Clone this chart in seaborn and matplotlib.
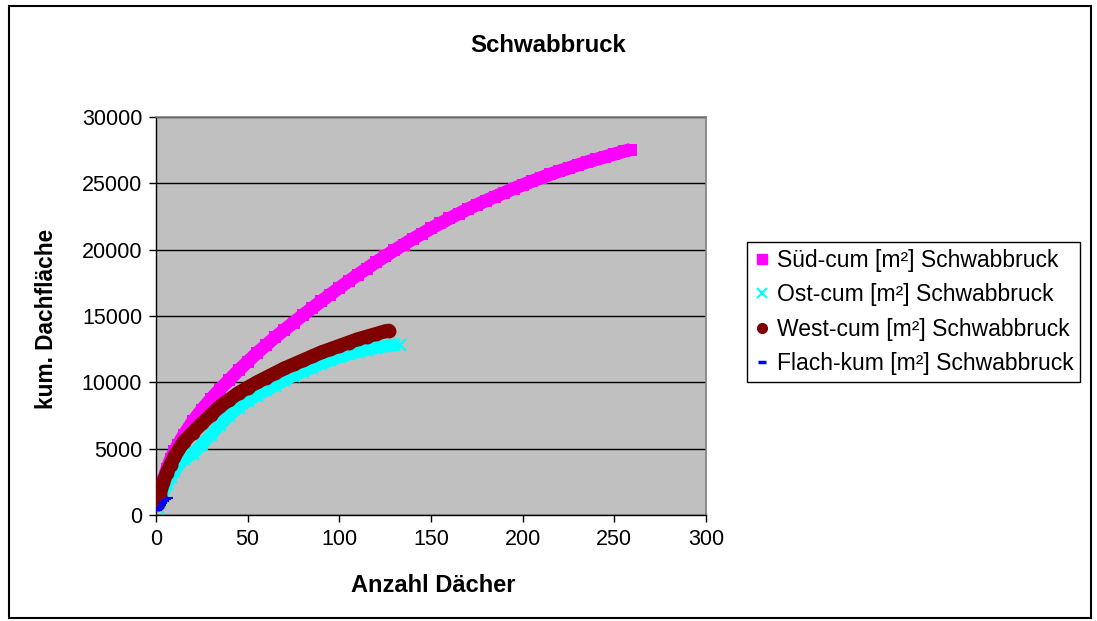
import numpy as np
import pandas as pd
import seaborn as sns
import matplotlib.pyplot as plt
from matplotlib.lines import Line2D
from matplotlib.patches import Rectangle

plt.rcParams['font.family'] = ['Liberation Sans', 'DejaVu Sans']

# Werte (Anzahl Dächer, kum. Dachfläche)
sued_x = [1, 2, 3, 4, 6, 8, 10, 12, 15, 20, 25, 30, 35, 40, 45, 50, 55, 60, 65, 70, 75, 80,
          85, 90, 95, 100, 105, 110, 115, 120, 125, 130, 135, 140, 145, 150, 155, 160, 165,
          170, 175, 180, 185, 190, 195, 200, 205, 210, 215, 220, 225, 230, 235, 240, 245,
          250, 255, 259]
sued_y = [900, 1500, 2100, 2600, 3500, 4200, 4800, 5300, 6000, 7050, 7950, 8750, 9500, 10200,
          10900, 11550, 12200, 12800, 13400, 13950, 14500, 15050, 15580, 16100, 16620, 17120,
          17620, 18100, 18580, 19050, 19500, 19950, 20380, 20800, 21200, 21600, 21980, 22350,
          22700, 23050, 23380, 23700, 24000, 24300, 24600, 24880, 25150, 25420, 25680, 25920,
          26150, 26380, 26600, 26800, 27000, 27200, 27400, 27550]

ost_x = [1, 2, 4, 6, 8, 10, 15, 20, 25, 30, 35, 40, 45, 50, 55, 60, 65, 70, 75, 80, 85, 90,
         95, 100, 105, 110, 115, 120, 125, 130, 133]
ost_y = [550, 950, 1700, 2350, 2850, 3300, 4200, 4600, 5300, 6050, 6800, 7500, 8100, 8600,
         9000, 9400, 9750, 10150, 10500, 10800, 11100, 11400, 11650, 11900, 12100, 12300,
         12450, 12600, 12720, 12800, 12850]

west_x = [1, 2, 4, 6, 8, 10, 15, 20, 25, 30, 35, 40, 45, 50, 55, 60, 65, 70, 75, 80, 85, 90,
          95, 100, 105, 110, 115, 120, 125, 127]
west_y = [800, 1500, 2500, 3200, 3800, 4400, 5500, 6200, 6900, 7550, 8200, 8700, 9200, 9600,
          10000, 10350, 10700, 11050, 11350, 11650, 11950, 12250, 12500, 12750, 13000, 13250,
          13450, 13650, 13850, 13900]

flach_x = [1, 2, 3, 4, 5, 6, 7]
flach_y = [350, 550, 750, 900, 1050, 1180, 1280]

labels = ['Süd-cum [m²] Schwabbruck', 'Ost-cum [m²] Schwabbruck',
          'West-cum [m²] Schwabbruck', 'Flach-kum [m²] Schwabbruck']

fig = plt.figure(figsize=(10.97, 6.21), dpi=100)
ax = fig.add_axes([156 / 1097, 106 / 621, 550 / 1097, 398 / 621])
ax.set_facecolor('#C0C0C0')

# %%
# Serien: dicke Linie als "Band" + Marker an den abgelesenen Punkten
series = [
    (sued_x, sued_y, '#FF00FF', 's', 9.5, 8, 'butt'),
    (ost_x, ost_y, '#00FFFF', 'x', 9, 8, 'butt'),
    (west_x, west_y, '#800000', 'o', 10, 10, 'round'),
    (flach_x, flach_y, '#0000FF', '_', 3, 6, 'butt'),
]
z = 3
for sx, sy, col, mk, lw, ms, cap in series:
    sns.lineplot(x=sx, y=sy, ax=ax, color=col, linewidth=lw, sort=False,
                 errorbar=None, legend=False, zorder=z,
                 solid_capstyle=cap, marker=mk, markersize=ms,
                 markeredgewidth=1.5 if mk in ('x', '_') else 0, markeredgecolor=col)
    z += 1

ax.set_xlim(0, 300)
ax.set_ylim(0, 30000)
ax.set_xticks(np.arange(0, 301, 50))
ax.set_yticks(np.arange(0, 30001, 5000))
ax.yaxis.grid(True, color='black', linewidth=1)
ax.xaxis.grid(False)
ax.set_axisbelow(True)
ax.set_xlabel('')
ax.set_ylabel('')
for s in ['left', 'bottom']:
    ax.spines[s].set_color('black')
    ax.spines[s].set_linewidth(1)
for s in ['top', 'right']:
    ax.spines[s].set_color('#808080')
    ax.spines[s].set_linewidth(1.2)
ax.tick_params(direction='out', length=5, width=1, labelsize=15.5, pad=5, colors='black')

fig.text(0.5, 1 - 45 / 621, 'Schwabbruck', ha='center', va='center',
         fontsize=17.3, fontweight='bold')
fig.text(433 / 1097, 1 - 585 / 621, 'Anzahl Dächer', ha='center', va='center',
         fontsize=17, fontweight='bold')
fig.text(47 / 1097, 1 - 319 / 621, 'kum. Dachfläche', ha='center', va='center',
         rotation=90, fontsize=16.3, fontweight='bold')

handles = [
    Line2D([], [], ls='none', marker='s', color='#FF00FF', markersize=6.5),
    Line2D([], [], ls='none', marker='x', color='#00FFFF', markersize=7, markeredgewidth=1.5),
    Line2D([], [], ls='none', marker='o', color='#800000', markersize=7),
    Line2D([], [], ls='none', marker='_', color='#0000FF', markersize=6, markeredgewidth=2.5),
]
leg = fig.legend(handles, labels, loc='upper left', bbox_to_anchor=(747 / 1097, 1 - 242 / 621),
                 frameon=True, fancybox=False, framealpha=1, edgecolor='black',
                 fontsize=16.5, handlelength=0.7, handletextpad=0.3, labelspacing=0.5,
                 borderpad=0.3, borderaxespad=0)
leg.get_frame().set_linewidth(1)

# äußerer Rahmen
fig.patches.append(Rectangle((9 / 1097, 3 / 621), 1082 / 1097, 612 / 621,
                             transform=fig.transFigure, fill=False,
                             edgecolor='black', linewidth=1.5))

fig.savefig('out.png', dpi=100)
